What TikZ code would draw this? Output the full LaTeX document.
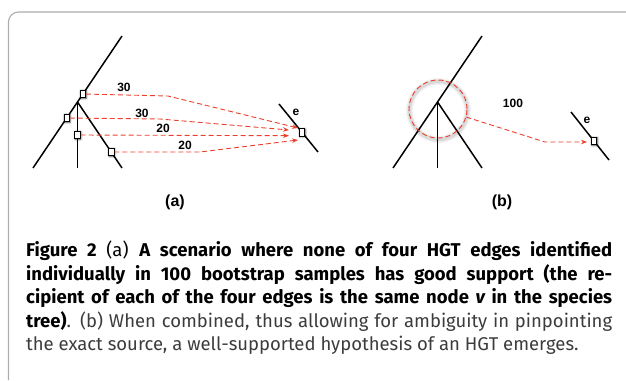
\documentclass[tikz,border=0pt]{standalone}
\usepackage{fontspec}
\setmainfont{Fira Sans}
\newfontfamily\labelfont{Liberation Sans}
\usetikzlibrary{arrows.meta, shadows.blur}
\definecolor{hgtred}{RGB}{236,64,46}
\definecolor{capgray}{RGB}{60,60,60}

\begin{document}
\begin{tikzpicture}[x=1pt, y=-1pt, >={Stealth[length=6pt, width=4.5pt]},
  branch/.style={line width=1.5pt},
  leaf/.style={draw, line width=0.6pt, fill=white, minimum width=5.5pt, minimum height=7.5pt, inner sep=0pt,
    blur shadow={shadow xshift=0.6pt, shadow yshift=-0.6pt, shadow blur radius=2pt, shadow opacity=70}},
  hgt/.style={->, hgtred, line width=0.9pt, dash pattern=on 5pt off 3pt},
  num/.style={font=\labelfont\bfseries\fontsize{12}{12}\selectfont},
  panel/.style={font=\labelfont\bfseries\fontsize{16}{16}\selectfont},
  capline/.style={anchor=base west, inner sep=0pt, font=\fontsize{18.5}{23}\selectfont}]
  \useasboundingbox (0,0) rectangle (626,380);
  \draw[gray!65, line width=1.1pt, rounded corners=10pt] (626,12) -- (8.5,12) -- (8.5,380);

  % (a)
  \coordinate (ja) at (77.5,102);
  \draw[branch] (33,168) -- (122,36);
  \draw[branch] (ja) -- (77.5,168);
  \draw[branch] (ja) -- (122,168);
  \draw[branch] (279,104) -- (318,152);
  \node[leaf] (s1) at (82.9,94) {};
  \node[leaf] (s2) at (66.7,118) {};
  \node[leaf] (s3) at (77.5,135) {};
  \node[leaf] (s4) at (111.2,152) {};
  \node[leaf] (ea) at (302,132.3) {};
  \node[num] (ela) at (296,112) {e};
  \coordinate (k1) at (168,96);
  \coordinate (k2) at (160,119);
  \coordinate (k4) at (200,152);
  \coordinate (t1) at (298,128);
  \coordinate (t2) at (289,130);
  \coordinate (t3) at (289,135.7);
  \coordinate (t4) at (298,140);
  \draw[hgt] (s1) -- (k1) -- (t1);
  \draw[hgt] (s2) -- (k2) -- (t2);
  \draw[hgt] (s3) -- (t3);
  \draw[hgt] (s4) -- (k4) -- (t4);
  \node[num] at (124,87) {30};
  \node[num] at (142,113) {30};
  \node[num] at (163,128) {20};
  \node[num] at (185,145) {20};
  \node[panel] (pa) at (175,202) {(a)};

  % (b)
  \coordinate (jb) at (437.5,102);
  \foreach \w/\o in {7/0.04, 5/0.05, 3/0.07}
    \draw[black, opacity=\o, line width=\w pt] (438.5,110.5) circle (29pt);
  \draw[branch] (393,168) -- (482,36);
  \draw[branch] (jb) -- (437.5,168);
  \draw[branch] (jb) -- (482,168);
  \draw[branch] (571,112) -- (609,160);
  \node[circle, draw=hgtred, line width=0.9pt, dash pattern=on 5pt off 3pt, minimum size=58pt, inner sep=0pt] (src) at (438,109) {};
  \node[leaf] (eb) at (594,141) {};
  \node[num] (elb) at (587,120) {e};
  \coordinate (kb) at (545,142);
  \coordinate (tb) at (587,142);
  \draw[hgt] (src.-16) -- (kb) -- (tb);
  \node[num] at (513,103) {100};
  \node[panel] (pb) at (502,202) {(b)};

  % caption
  \node[capline] (c1) at (26,256) {\makebox[586pt][s]{\bfseries Figure 2 \mdseries (a) \bfseries A scenario where none of four HGT edges identified}};
  \node[capline] (c2) at (26,280) {\makebox[586pt][s]{\bfseries individually in 100 bootstrap samples has good support (the re-}};
  \node[capline] (c3) at (26,303.5) {\makebox[586pt][s]{\bfseries cipient of each of the four edges is the same node \textit{v}\kern-1pt\ in the species}};
  \node[capline] (c4) at (26,327) {\makebox[586pt][s]{\bfseries tree)\mdseries\color{capgray}. (b) When combined, thus allowing for ambiguity in pinpointing}};
  \node[capline, text=capgray] (c5) at (26,350.5) {the exact source, a well-supported hypothesis of an HGT emerges.};
\end{tikzpicture}
\end{document}
